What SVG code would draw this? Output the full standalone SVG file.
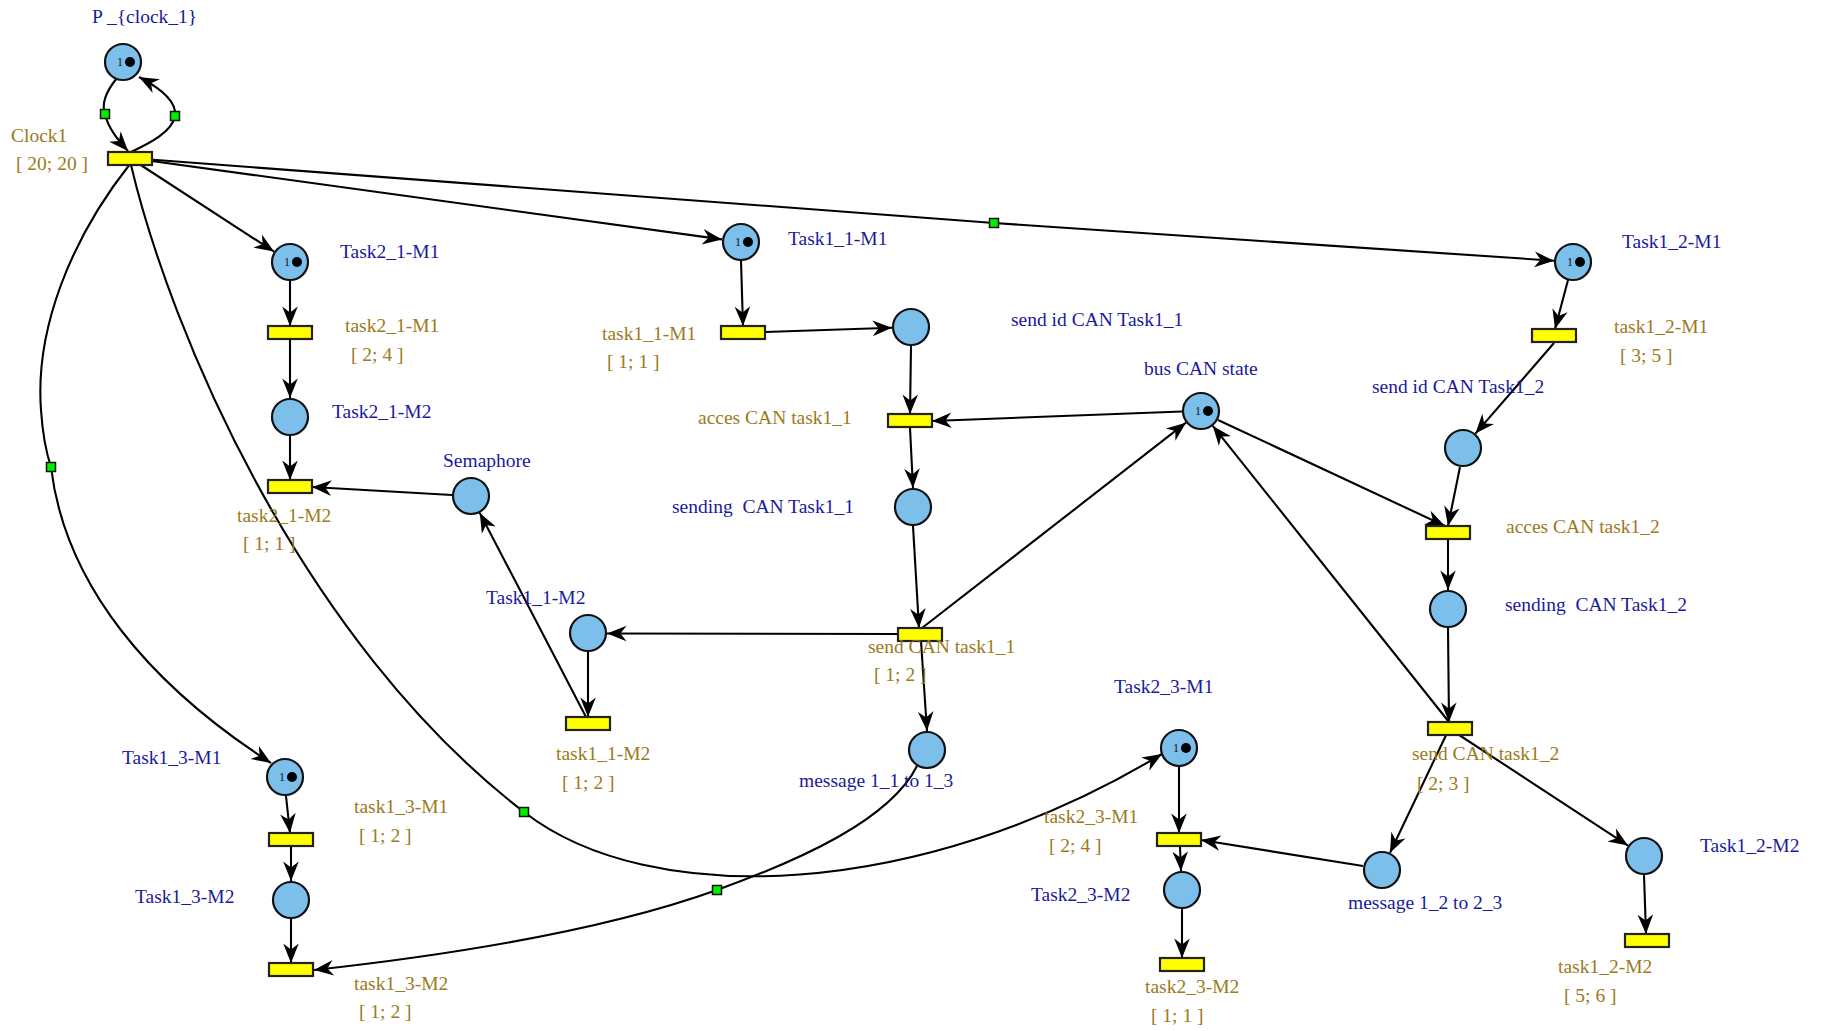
<svg xmlns="http://www.w3.org/2000/svg" width="1821" height="1031" viewBox="0 0 1821 1031">
<style>
.pl{fill:#7dbfeb;stroke:#111;stroke-width:2.2}
.tr{fill:#ffff00;stroke:#222;stroke-width:2.2}
.tk{fill:#000}
.tn{font-family:"Liberation Serif",serif;font-size:12px;fill:#111}
.lb{font-family:"Liberation Serif",serif;font-size:19.5px;fill:#1a1a9c}
.lt{font-family:"Liberation Serif",serif;font-size:19.5px;fill:#9b7a20}
.c{fill:none;stroke:#000;stroke-width:2.1;marker-end:url(#arr)}
.g{fill:#00ee00;stroke:#111;stroke-width:1.5}
</style>
<defs>
<marker id="arr" viewBox="-21 -9 22 18" refX="0" refY="0" markerWidth="22" markerHeight="18" orient="auto" markerUnits="userSpaceOnUse">
<path d="M0,0 L-19.5,-7.8 L-13.5,0 L-19.5,7.8 Z" fill="#000"/>
</marker>
</defs>
<rect width="1821" height="1031" fill="#fff"/>
<g id="connectors">
<path class="c" d="M117,78 C104,94 102,106 105,114 C108,128 118,140 128,151"/>
<path class="c" d="M131,152 C150,143 172,132 175,116 C177,102 160,88 139,77"/>
<path class="c" d="M130,158 L274,251.6"/>
<path class="c" d="M130,158 L722,239.4"/>
<path class="c" d="M130,158 L994,223 L1554,260.7"/>
<path class="c" d="M130,164 C70,240 35,330 41,410 C43,440 47,455 51,467 C65,585 150,685 271,763"/>
<path class="c" d="M131,165 C170,330 300,640 524,812 C650,910 920,900 1162,754"/>
<path class="c" d="M290,281 L290,326"/>
<path class="c" d="M290,339 L290,398"/>
<path class="c" d="M290,436 L290,480"/>
<path class="c" d="M452,495 L312,487"/>
<path class="c" d="M586,717 L479.8,512.9"/>
<path class="c" d="M741,261 L743,326"/>
<path class="c" d="M765,332 L892,327.7"/>
<path class="c" d="M911,346 L910,414"/>
<path class="c" d="M1182,411.5 L932,421"/>
<path class="c" d="M910,428 L913,488"/>
<path class="c" d="M913,526 L919,628"/>
<path class="c" d="M922,628 L1186,422.7"/>
<path class="c" d="M898,634 L607,633.5"/>
<path class="c" d="M921,641 L927,731"/>
<path class="c" d="M588,652 L588,717"/>
<path class="c" d="M917,766 C890,820 800,860 717,890 C600,932 450,955 314,970"/>
<path class="c" d="M286,796 L290,833"/>
<path class="c" d="M291,847 L291,881"/>
<path class="c" d="M291,919 L291,963"/>
<path class="c" d="M1568,280 L1555,329"/>
<path class="c" d="M1554,343 L1475.4,433.6"/>
<path class="c" d="M1460,467 L1448,526"/>
<path class="c" d="M1218,420 L1445,526"/>
<path class="c" d="M1448,539 L1448,590"/>
<path class="c" d="M1448,628 L1449,722"/>
<path class="c" d="M1449,722 L1212.8,425.9"/>
<path class="c" d="M1449,729 L1390,852.8"/>
<path class="c" d="M1450,729 L1628,845.6"/>
<path class="c" d="M1644,875 L1646,934"/>
<path class="c" d="M1179,767 L1179,833"/>
<path class="c" d="M1363,866 L1201,840"/>
<path class="c" d="M1180,847 L1181,871"/>
<path class="c" d="M1182,909 L1182,958"/>
<rect class="g" x="100.5" y="109.5" width="9" height="9"/>
<rect class="g" x="170.5" y="111.5" width="9" height="9"/>
<rect class="g" x="989.5" y="218.5" width="9" height="9"/>
<rect class="g" x="46.5" y="462.5" width="9" height="9"/>
<rect class="g" x="519.5" y="807.5" width="9" height="9"/>
<rect class="g" x="712.5" y="885.5" width="9" height="9"/>
</g>
<g id="P_clock_1"><circle class="pl" cx="123" cy="62" r="18"/><text class="tn" x="117" y="66">1</text><circle class="tk" cx="130" cy="62" r="5"/><text class="lb" x="92" y="23">P _{clock_1}</text></g>
<g id="Clock1"><rect class="tr" x="108" y="152" width="44" height="13"/><text class="lt" x="11" y="142">Clock1</text><text class="lt" x="16" y="170">[ 20; 20 ]</text></g>
<g id="Task2_1-M1"><circle class="pl" cx="290" cy="262" r="18"/><text class="tn" x="284" y="266">1</text><circle class="tk" cx="297" cy="262" r="5"/><text class="lb" x="340" y="258">Task2_1-M1</text></g>
<g id="task2_1-M1"><rect class="tr" x="268" y="326" width="44" height="13"/><text class="lt" x="345" y="332">task2_1-M1</text><text class="lt" x="351" y="361">[ 2; 4 ]</text></g>
<g id="Task2_1-M2"><circle class="pl" cx="290" cy="417" r="18"/><text class="lb" x="332" y="418">Task2_1-M2</text></g>
<g id="task2_1-M2"><rect class="tr" x="268" y="480" width="44" height="13"/><text class="lt" x="237" y="522">task2_1-M2</text><text class="lt" x="243" y="550">[ 1; 1 ]</text></g>
<g id="Semaphore"><circle class="pl" cx="471" cy="496" r="18"/><text class="lb" x="443" y="467">Semaphore</text></g>
<g id="Task1_1-M1"><circle class="pl" cx="741" cy="242" r="18"/><text class="tn" x="735" y="246">1</text><circle class="tk" cx="748" cy="242" r="5"/><text class="lb" x="788" y="245">Task1_1-M1</text></g>
<g id="task1_1-M1"><rect class="tr" x="721" y="326" width="44" height="13"/><text class="lt" x="602" y="340">task1_1-M1</text><text class="lt" x="607" y="368">[ 1; 1 ]</text></g>
<g id="send_id_CAN_Task1_1"><circle class="pl" cx="911" cy="327" r="18"/><text class="lb" x="1011" y="326">send id CAN Task1_1</text></g>
<g id="acces_CAN_task1_1"><rect class="tr" x="888" y="414" width="44" height="13"/><text class="lt" x="698" y="424">acces CAN task1_1</text></g>
<g id="sending_CAN_Task1_1"><circle class="pl" cx="913" cy="507" r="18"/><text class="lb" x="672" y="513" xml:space="preserve">sending  CAN Task1_1</text></g>
<g id="bus_CAN_state"><circle class="pl" cx="1201" cy="411" r="18"/><text class="tn" x="1195" y="415">1</text><circle class="tk" cx="1208" cy="411" r="5"/><text class="lb" x="1144" y="375">bus CAN state</text></g>
<g id="send_CAN_task1_1"><rect class="tr" x="898" y="628" width="44" height="13"/><text class="lt" x="868" y="653">send CAN task1_1</text><text class="lt" x="874" y="681">[ 1; 2 ]</text></g>
<g id="Task1_1-M2"><circle class="pl" cx="588" cy="633" r="18"/><text class="lb" x="486" y="604">Task1_1-M2</text></g>
<g id="task1_1-M2"><rect class="tr" x="566" y="717" width="44" height="13"/><text class="lt" x="556" y="760">task1_1-M2</text><text class="lt" x="562" y="789">[ 1; 2 ]</text></g>
<g id="message_1_1_to_1_3"><circle class="pl" cx="927" cy="750" r="18"/><text class="lb" x="799" y="787">message 1_1 to 1_3</text></g>
<g id="Task1_2-M1"><circle class="pl" cx="1573" cy="262" r="18"/><text class="tn" x="1567" y="266">1</text><circle class="tk" cx="1580" cy="262" r="5"/><text class="lb" x="1622" y="248">Task1_2-M1</text></g>
<g id="task1_2-M1"><rect class="tr" x="1532" y="329" width="44" height="13"/><text class="lt" x="1614" y="333">task1_2-M1</text><text class="lt" x="1620" y="362">[ 3; 5 ]</text></g>
<g id="send_id_CAN_Task1_2"><circle class="pl" cx="1463" cy="448" r="18"/><text class="lb" x="1372" y="393">send id CAN Task1_2</text></g>
<g id="acces_CAN_task1_2"><rect class="tr" x="1426" y="526" width="44" height="13"/><text class="lt" x="1506" y="533">acces CAN task1_2</text></g>
<g id="sending_CAN_Task1_2"><circle class="pl" cx="1448" cy="609" r="18"/><text class="lb" x="1505" y="611" xml:space="preserve">sending  CAN Task1_2</text></g>
<g id="send_CAN_task1_2"><rect class="tr" x="1428" y="722" width="44" height="13"/><text class="lt" x="1412" y="760">send CAN task1_2</text><text class="lt" x="1417" y="790">[ 2; 3 ]</text></g>
<g id="message_1_2_to_2_3"><circle class="pl" cx="1382" cy="870" r="18"/><text class="lb" x="1348" y="909">message 1_2 to 2_3</text></g>
<g id="Task1_2-M2"><circle class="pl" cx="1644" cy="856" r="18"/><text class="lb" x="1700" y="852">Task1_2-M2</text></g>
<g id="task1_2-M2"><rect class="tr" x="1625" y="934" width="44" height="13"/><text class="lt" x="1558" y="973">task1_2-M2</text><text class="lt" x="1564" y="1002">[ 5; 6 ]</text></g>
<g id="Task2_3-M1"><circle class="pl" cx="1179" cy="748" r="18"/><text class="tn" x="1173" y="752">1</text><circle class="tk" cx="1186" cy="748" r="5"/><text class="lb" x="1114" y="693">Task2_3-M1</text></g>
<g id="task2_3-M1"><rect class="tr" x="1157" y="833" width="44" height="13"/><text class="lt" x="1044" y="823">task2_3-M1</text><text class="lt" x="1049" y="852">[ 2; 4 ]</text></g>
<g id="Task2_3-M2"><circle class="pl" cx="1182" cy="890" r="18"/><text class="lb" x="1031" y="901">Task2_3-M2</text></g>
<g id="task2_3-M2"><rect class="tr" x="1160" y="958" width="44" height="13"/><text class="lt" x="1145" y="993">task2_3-M2</text><text class="lt" x="1151" y="1022">[ 1; 1 ]</text></g>
<g id="Task1_3-M1"><circle class="pl" cx="285" cy="777" r="18"/><text class="tn" x="279" y="781">1</text><circle class="tk" cx="292" cy="777" r="5"/><text class="lb" x="122" y="764">Task1_3-M1</text></g>
<g id="task1_3-M1"><rect class="tr" x="269" y="833" width="44" height="13"/><text class="lt" x="354" y="813">task1_3-M1</text><text class="lt" x="359" y="842">[ 1; 2 ]</text></g>
<g id="Task1_3-M2"><circle class="pl" cx="291" cy="900" r="18"/><text class="lb" x="135" y="903">Task1_3-M2</text></g>
<g id="task1_3-M2"><rect class="tr" x="269" y="963" width="44" height="13"/><text class="lt" x="354" y="990">task1_3-M2</text><text class="lt" x="359" y="1018">[ 1; 2 ]</text></g>
</svg>
